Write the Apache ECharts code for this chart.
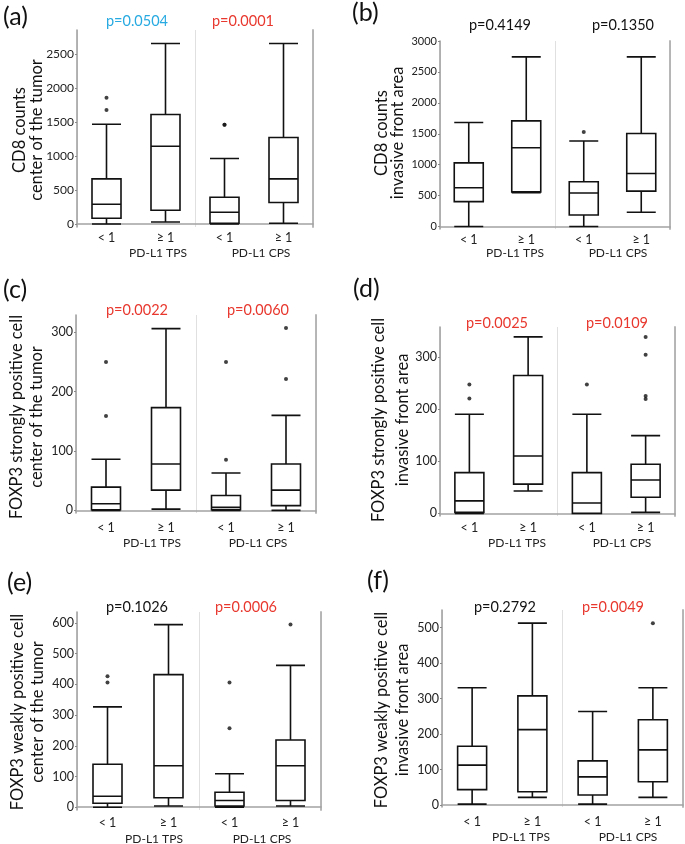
<!DOCTYPE html>
<html>
<head>
<meta charset="utf-8">
<script src="https://cdn.jsdelivr.net/npm/echarts@6/dist/echarts.min.js"></script>
<style>
html,body{margin:0;padding:0;background:#fff;}
#chart{width:685px;height:844px;}
</style>
</head>
<body>
<div id="chart"></div>
<script>
// ---------- DATA ----------
const categories = ['< 1', '≥ 1', '< 1', '≥ 1'];
const groupLabels = ['PD-L1 TPS', 'PD-L1 CPS'];
const panelLabels = ['(a)', '(b)', '(c)', '(d)', '(e)', '(f)'];
const yTitles = [
  ['CD8 counts', 'center of the tumor'],
  ['CD8 counts', 'invasive front area'],
  ['FOXP3 strongly positive cell', 'center of the tumor'],
  ['FOXP3 strongly positive cell', 'invasive front area'],
  ['FOXP3 weakly positive cell', 'center of the tumor'],
  ['FOXP3 weakly positive cell', 'invasive front area']
];
const pValues = [
  ['p=0.0504', 'p=0.0001'],
  ['p=0.4149', 'p=0.1350'],
  ['p=0.0022', 'p=0.0060'],
  ['p=0.0025', 'p=0.0109'],
  ['p=0.1026', 'p=0.0006'],
  ['p=0.2792', 'p=0.0049']
];
// box data: [min, Q1, median, Q3, max]
const boxesA = [[0, 83, 289, 662, 1466], [29, 201, 1142, 1608, 2652], [0, 10, 172, 392, 961], [10, 314, 662, 1270, 2652]];
const outliersA = [[0, 1853], [0, 1676], [2, 1456], [2, 1456]];
const boxesB = [[0, 402, 627, 1029, 1682], [545, 560, 1275, 1709, 2743], [0, 187, 541, 723, 1382], [230, 573, 857, 1505, 2743]];
const outliersB = [[2, 1527]];
const boxesC = [[0, 1, 11, 39, 86], [2, 34, 78, 173, 306], [0, 1, 5, 25, 63], [0, 8, 34, 78, 160]];
const outliersC = [[0, 250], [0, 159], [2, 85], [2, 250], [3, 307], [3, 221]];
const boxesD = [[0, 2, 24, 78, 190], [43, 56, 110, 264, 338], [0, 0, 20, 78, 190], [2, 31, 64, 94, 149]];
const outliersD = [[0, 247], [0, 220], [2, 247], [3, 338], [3, 304], [3, 225], [3, 219]];
const boxesE = [[0, 13, 36, 140, 327], [4, 31, 135, 432, 595], [0, 4, 22, 49, 109], [4, 22, 135, 219, 462]];
const outliersE = [[0, 427], [0, 406], [2, 406], [2, 257], [3, 595]];
const boxesF = [[3, 44, 113, 166, 331], [22, 38, 213, 308, 513], [3, 29, 80, 125, 264], [22, 66, 156, 241, 331]];
const outliersF = [[3, 513]];
// tick labels
const ticksA = [0, 500, 1000, 1500, 2000, 2500];
const ticksB = [0, 500, 1000, 1500, 2000, 2500, 3000];
const ticksC = [0, 100, 200, 300];
const ticksD = [0, 100, 200, 300];
const ticksE = [0, 100, 200, 300, 400, 500, 600];
const ticksF = [0, 100, 200, 300, 400, 500];

// ---------- LAYOUT / STYLE ----------
const FONT = 'Lato';
const CYAN = '#27aae1', RED = '#e8382e', BLACK = '#111';
const panels = [
  { boxes: boxesA, outliers: outliersA, ticks: ticksA, grid: { left: 77, top: 30, width: 236, height: 197 }, yMin: -45, yMax: 2850, tickFont: 12, labelMargin: 4,
    label: [3, 17], p: [[137, 21, CYAN], [243, 21, RED]], title: [28, 130, 17], groups: [[158, 253], [261, 253]] },
  { boxes: boxesB, outliers: outliersB, ticks: ticksB, grid: { left: 440, top: 41, width: 230, height: 188 }, yMin: -40, yMax: 3000, tickFont: 11, labelMargin: 4,
    label: [352, 13], p: [[500, 25, BLACK], [623, 25, BLACK]], title: [390, 133, 16], groups: [[515, 253], [618, 253]] },
  { boxes: boxesC, outliers: outliersC, ticks: ticksC, grid: { left: 76, top: 315, width: 240, height: 198 }, yMin: -4.5, yMax: 329, tickFont: 12.5, labelMargin: 8,
    label: [3, 290], p: [[137, 310, RED], [258, 310, RED]], title: [27, 417, 20], groups: [[152, 543], [258, 543]] },
  { boxes: boxesD, outliers: outliersD, ticks: ticksD, grid: { left: 440, top: 327, width: 235, height: 189 }, yMin: -5, yMax: 357, tickFont: 12.5, labelMargin: 5,
    label: [353, 289], p: [[497, 323, RED], [617, 323, RED]], title: [391, 420, 24], groups: [[517, 543], [622, 543]] },
  { boxes: boxesE, outliers: outliersE, ticks: ticksE, grid: { left: 77, top: 612, width: 244, height: 198 }, yMin: -9, yMax: 636, tickFont: 12.5, labelMargin: 6,
    label: [7, 583], p: [[137, 607, BLACK], [246, 607, RED]], title: [27.5, 712, 20], groups: [[154, 839], [262, 839]] },
  { boxes: boxesF, outliers: outliersF, ticks: ticksF, grid: { left: 442, top: 610, width: 241, height: 197 }, yMin: -5, yMax: 550, tickFont: 12.5, labelMargin: 8,
    label: [367, 581], p: [[505, 607, BLACK], [613, 607, RED]], title: [392, 710, 21], groups: [[521, 837], [628, 837]] }
];

const grids = [], xAxes = [], yAxes = [], series = [], graphics = [];
panels.forEach((pn, i) => {
  grids.push(Object.assign({ containLabel: false }, pn.grid));
  // category axis carrying the boxes
  xAxes.push({
    type: 'category', gridIndex: i, data: categories,
    axisLine: { show: true, lineStyle: { color: '#a3a3a3', width: 1.6 } },
    axisTick: { show: false },
    axisLabel: { color: '#222', fontFamily: FONT, fontSize: 12.5, margin: pn.labelMargin },
    splitLine: { show: false }
  });
  // hidden value axis spanning the four category slots, used for the group divider
  xAxes.push({
    type: 'value', gridIndex: i, min: 0, max: categories.length, interval: 2, position: 'top',
    axisLine: { show: false }, axisTick: { show: false }, axisLabel: { show: false },
    splitLine: { show: true, lineStyle: { color: '#e0e0e0', width: 1 } }
  });
  yAxes.push({
    type: 'value', gridIndex: i, min: pn.yMin, max: pn.yMax, position: 'left',
    axisLine: { show: true, lineStyle: { color: '#a3a3a3', width: 1.6 } },
    axisTick: { show: true, length: 2, customValues: pn.ticks, lineStyle: { color: '#888', width: 1 } },
    axisLabel: { color: '#222', fontFamily: FONT, fontSize: pn.tickFont, margin: 3, customValues: pn.ticks,
      formatter: (v) => String(v) },
    splitLine: { show: false }
  });
  yAxes.push({
    type: 'value', gridIndex: i, min: pn.yMin, max: pn.yMax, position: 'right',
    axisLine: { show: true, lineStyle: { color: '#b0b0b0', width: 1.8 } },
    axisTick: { show: false }, axisLabel: { show: false }, splitLine: { show: false }
  });
  series.push({
    type: 'boxplot', xAxisIndex: 2 * i, yAxisIndex: 2 * i, data: pn.boxes,
    boxWidth: [29, 29], silent: true, z: 3,
    itemStyle: { color: '#fff', borderColor: '#111', borderWidth: 1.6 },
    emphasis: { disabled: true }
  });
  series.push({
    type: 'scatter', xAxisIndex: 2 * i, yAxisIndex: 2 * i, data: pn.outliers,
    symbolSize: 4, silent: true, z: 4, itemStyle: { color: '#111' }
  });
  // panel label
  graphics.push({ type: 'text', x: pn.label[0], y: pn.label[1], silent: true,
    style: { text: panelLabels[i], fill: '#111', fontFamily: FONT, fontSize: 25, fontWeight: 'normal', align: 'left', verticalAlign: 'middle' } });
  // p values
  pn.p.forEach((pp, k) => {
    graphics.push({ type: 'text', x: pp[0], y: pp[1], silent: true,
      style: { text: pValues[i][k], fill: pp[2], fontFamily: FONT, fontSize: 14.5, align: 'center', verticalAlign: 'middle' } });
  });
  // y title
  graphics.push({ type: 'text', x: pn.title[0], y: pn.title[1], rotation: Math.PI / 2, silent: true,
    style: { text: yTitles[i].join('\n'), fill: '#111', fontFamily: FONT, fontSize: 16.5, lineHeight: pn.title[2], align: 'center', verticalAlign: 'middle' } });
  // group labels
  pn.groups.forEach((g, k) => {
    graphics.push({ type: 'text', x: g[0], y: g[1], silent: true,
      style: { text: groupLabels[k], fill: '#222', fontFamily: FONT, fontSize: 12, align: 'center', verticalAlign: 'middle' } });
  });
});

const chart = echarts.init(document.getElementById('chart'), null, { renderer: 'canvas' });
chart.setOption({
  backgroundColor: '#fff',
  animation: false,
  grid: grids, xAxis: xAxes, yAxis: yAxes, series: series,
  graphic: { elements: graphics }
});
</script>
</body>
</html>
